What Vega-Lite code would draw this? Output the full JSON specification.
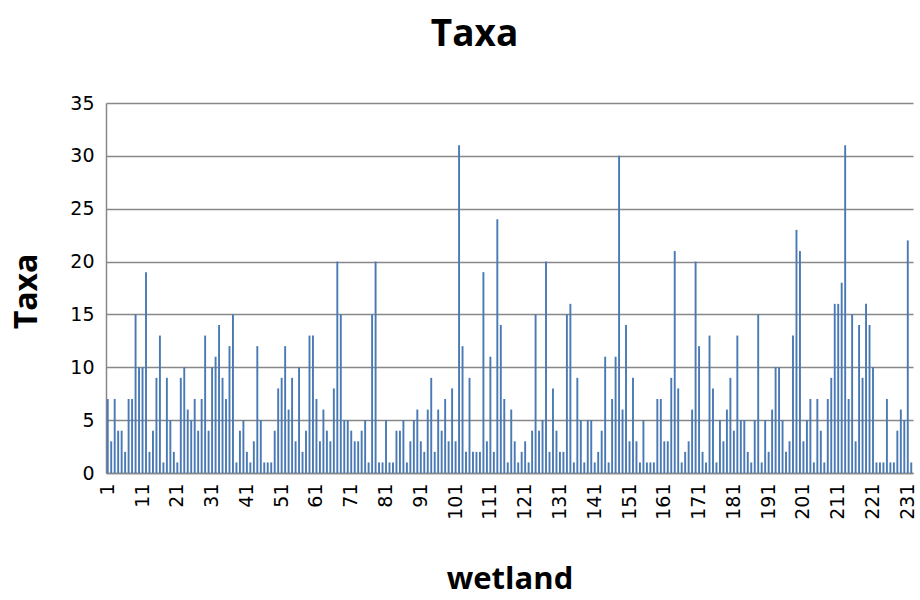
{
  "$schema": "https://vega.github.io/schema/vega-lite/v6.json",
  "width": 807,
  "height": 370,
  "autosize": {"type": "none"},
  "padding": {"left": 106, "top": 103, "right": 7, "bottom": 127},
  "background": "white",
  "title": {"text": "Taxa", "fontSize": 37, "font": "Open Sans", "fontWeight": "bold", "color": "#000000", "anchor": "middle", "frame": "group", "dx": -35, "offset": 40},
  "data": {"values": [
    {"wetland":1,"taxa":7},{"wetland":2,"taxa":3},{"wetland":3,"taxa":7},{"wetland":4,"taxa":4},{"wetland":5,"taxa":4},{"wetland":6,"taxa":2},{"wetland":7,"taxa":7},{"wetland":8,"taxa":7},{"wetland":9,"taxa":15},{"wetland":10,"taxa":10},
    {"wetland":11,"taxa":10},{"wetland":12,"taxa":19},{"wetland":13,"taxa":2},{"wetland":14,"taxa":4},{"wetland":15,"taxa":9},{"wetland":16,"taxa":13},{"wetland":17,"taxa":1},{"wetland":18,"taxa":9},{"wetland":19,"taxa":5},{"wetland":20,"taxa":2},
    {"wetland":21,"taxa":1},{"wetland":22,"taxa":9},{"wetland":23,"taxa":10},{"wetland":24,"taxa":6},{"wetland":25,"taxa":5},{"wetland":26,"taxa":7},{"wetland":27,"taxa":4},{"wetland":28,"taxa":7},{"wetland":29,"taxa":13},{"wetland":30,"taxa":4},
    {"wetland":31,"taxa":10},{"wetland":32,"taxa":11},{"wetland":33,"taxa":14},{"wetland":34,"taxa":9},{"wetland":35,"taxa":7},{"wetland":36,"taxa":12},{"wetland":37,"taxa":15},{"wetland":38,"taxa":1},{"wetland":39,"taxa":4},{"wetland":40,"taxa":5},
    {"wetland":41,"taxa":2},{"wetland":42,"taxa":1},{"wetland":43,"taxa":3},{"wetland":44,"taxa":12},{"wetland":45,"taxa":5},{"wetland":46,"taxa":1},{"wetland":47,"taxa":1},{"wetland":48,"taxa":1},{"wetland":49,"taxa":4},{"wetland":50,"taxa":8},
    {"wetland":51,"taxa":9},{"wetland":52,"taxa":12},{"wetland":53,"taxa":6},{"wetland":54,"taxa":9},{"wetland":55,"taxa":3},{"wetland":56,"taxa":10},{"wetland":57,"taxa":2},{"wetland":58,"taxa":4},{"wetland":59,"taxa":13},{"wetland":60,"taxa":13},
    {"wetland":61,"taxa":7},{"wetland":62,"taxa":3},{"wetland":63,"taxa":6},{"wetland":64,"taxa":4},{"wetland":65,"taxa":3},{"wetland":66,"taxa":8},{"wetland":67,"taxa":20},{"wetland":68,"taxa":15},{"wetland":69,"taxa":5},{"wetland":70,"taxa":5},
    {"wetland":71,"taxa":4},{"wetland":72,"taxa":3},{"wetland":73,"taxa":3},{"wetland":74,"taxa":4},{"wetland":75,"taxa":5},{"wetland":76,"taxa":1},{"wetland":77,"taxa":15},{"wetland":78,"taxa":20},{"wetland":79,"taxa":1},{"wetland":80,"taxa":1},
    {"wetland":81,"taxa":5},{"wetland":82,"taxa":1},{"wetland":83,"taxa":1},{"wetland":84,"taxa":4},{"wetland":85,"taxa":4},{"wetland":86,"taxa":5},{"wetland":87,"taxa":1},{"wetland":88,"taxa":3},{"wetland":89,"taxa":5},{"wetland":90,"taxa":6},
    {"wetland":91,"taxa":3},{"wetland":92,"taxa":2},{"wetland":93,"taxa":6},{"wetland":94,"taxa":9},{"wetland":95,"taxa":2},{"wetland":96,"taxa":6},{"wetland":97,"taxa":4},{"wetland":98,"taxa":7},{"wetland":99,"taxa":3},{"wetland":100,"taxa":8},
    {"wetland":101,"taxa":3},{"wetland":102,"taxa":31},{"wetland":103,"taxa":12},{"wetland":104,"taxa":2},{"wetland":105,"taxa":9},{"wetland":106,"taxa":2},{"wetland":107,"taxa":2},{"wetland":108,"taxa":2},{"wetland":109,"taxa":19},{"wetland":110,"taxa":3},
    {"wetland":111,"taxa":11},{"wetland":112,"taxa":2},{"wetland":113,"taxa":24},{"wetland":114,"taxa":14},{"wetland":115,"taxa":7},{"wetland":116,"taxa":1},{"wetland":117,"taxa":6},{"wetland":118,"taxa":3},{"wetland":119,"taxa":1},{"wetland":120,"taxa":2},
    {"wetland":121,"taxa":3},{"wetland":122,"taxa":1},{"wetland":123,"taxa":4},{"wetland":124,"taxa":15},{"wetland":125,"taxa":4},{"wetland":126,"taxa":5},{"wetland":127,"taxa":20},{"wetland":128,"taxa":2},{"wetland":129,"taxa":8},{"wetland":130,"taxa":4},
    {"wetland":131,"taxa":2},{"wetland":132,"taxa":2},{"wetland":133,"taxa":15},{"wetland":134,"taxa":16},{"wetland":135,"taxa":1},{"wetland":136,"taxa":9},{"wetland":137,"taxa":5},{"wetland":138,"taxa":1},{"wetland":139,"taxa":5},{"wetland":140,"taxa":5},
    {"wetland":141,"taxa":1},{"wetland":142,"taxa":2},{"wetland":143,"taxa":4},{"wetland":144,"taxa":11},{"wetland":145,"taxa":1},{"wetland":146,"taxa":7},{"wetland":147,"taxa":11},{"wetland":148,"taxa":30},{"wetland":149,"taxa":6},{"wetland":150,"taxa":14},
    {"wetland":151,"taxa":3},{"wetland":152,"taxa":9},{"wetland":153,"taxa":3},{"wetland":154,"taxa":1},{"wetland":155,"taxa":5},{"wetland":156,"taxa":1},{"wetland":157,"taxa":1},{"wetland":158,"taxa":1},{"wetland":159,"taxa":7},{"wetland":160,"taxa":7},
    {"wetland":161,"taxa":3},{"wetland":162,"taxa":3},{"wetland":163,"taxa":9},{"wetland":164,"taxa":21},{"wetland":165,"taxa":8},{"wetland":166,"taxa":1},{"wetland":167,"taxa":2},{"wetland":168,"taxa":3},{"wetland":169,"taxa":6},{"wetland":170,"taxa":20},
    {"wetland":171,"taxa":12},{"wetland":172,"taxa":2},{"wetland":173,"taxa":1},{"wetland":174,"taxa":13},{"wetland":175,"taxa":8},{"wetland":176,"taxa":1},{"wetland":177,"taxa":5},{"wetland":178,"taxa":3},{"wetland":179,"taxa":6},{"wetland":180,"taxa":9},
    {"wetland":181,"taxa":4},{"wetland":182,"taxa":13},{"wetland":183,"taxa":5},{"wetland":184,"taxa":5},{"wetland":185,"taxa":2},{"wetland":186,"taxa":1},{"wetland":187,"taxa":5},{"wetland":188,"taxa":15},{"wetland":189,"taxa":1},{"wetland":190,"taxa":5},
    {"wetland":191,"taxa":2},{"wetland":192,"taxa":6},{"wetland":193,"taxa":10},{"wetland":194,"taxa":10},{"wetland":195,"taxa":5},{"wetland":196,"taxa":2},{"wetland":197,"taxa":3},{"wetland":198,"taxa":13},{"wetland":199,"taxa":23},{"wetland":200,"taxa":21},
    {"wetland":201,"taxa":3},{"wetland":202,"taxa":5},{"wetland":203,"taxa":7},{"wetland":204,"taxa":1},{"wetland":205,"taxa":7},{"wetland":206,"taxa":4},{"wetland":207,"taxa":1},{"wetland":208,"taxa":7},{"wetland":209,"taxa":9},{"wetland":210,"taxa":16},
    {"wetland":211,"taxa":16},{"wetland":212,"taxa":18},{"wetland":213,"taxa":31},{"wetland":214,"taxa":7},{"wetland":215,"taxa":15},{"wetland":216,"taxa":3},{"wetland":217,"taxa":14},{"wetland":218,"taxa":9},{"wetland":219,"taxa":16},{"wetland":220,"taxa":14},
    {"wetland":221,"taxa":10},{"wetland":222,"taxa":1},{"wetland":223,"taxa":1},{"wetland":224,"taxa":1},{"wetland":225,"taxa":7},{"wetland":226,"taxa":1},{"wetland":227,"taxa":1},{"wetland":228,"taxa":4},{"wetland":229,"taxa":6},{"wetland":230,"taxa":5},
    {"wetland":231,"taxa":22},{"wetland":232,"taxa":1}
  ]},
  "mark": {"type": "bar", "color": "#4a7ab5"},
  "encoding": {
    "x": {
      "field": "wetland",
      "type": "ordinal",
      "scale": {"paddingInner": 0.45},
      "axis": {
        "values": [1,11,21,31,41,51,61,71,81,91,101,111,121,131,141,151,161,171,181,191,201,211,221,231],
        "labelAngle": -90,
        "labelAlign": "right",
        "labelBaseline": "middle",
        "labelFont": "DejaVu Sans",
        "labelFontSize": 19,
        "labelColor": "#000000",
        "labelPadding": 10,
        "ticks": false,
        "domain": true,
        "domainColor": "#888888",
        "domainWidth": 1.5,
        "title": "wetland",
        "titleFont": "Open Sans",
        "titleFontSize": 31,
        "titleFontWeight": "bold",
        "titleColor": "#000000",
        "titleBaseline": "alphabetic",
        "titleY": 115
      }
    },
    "y": {
      "field": "taxa",
      "type": "quantitative",
      "scale": {"domain": [0, 35]},
      "axis": {
        "values": [0,5,10,15,20,25,30,35],
        "grid": true,
        "gridColor": "#888888",
        "gridWidth": 1.5,
        "ticks": false,
        "domainColor": "#888888",
        "domainWidth": 1.5,
        "labelFont": "DejaVu Sans",
        "labelFontSize": 19,
        "labelColor": "#000000",
        "labelPadding": 12,
        "title": "Taxa",
        "titleFont": "Open Sans",
        "titleFontSize": 32,
        "titleFontWeight": "bold",
        "titleColor": "#000000",
        "titleAngle": -90,
        "titleBaseline": "bottom",
        "titleX": -63,
        "titleY": 188
      }
    }
  },
  "config": {"view": {"stroke": null}}
}
